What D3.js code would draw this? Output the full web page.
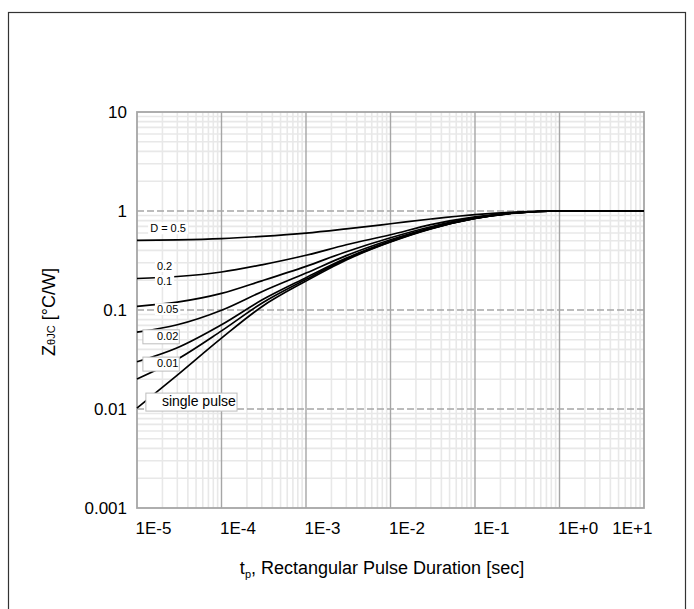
<!DOCTYPE html>
<html>
<head>
<meta charset="utf-8">
<script src="https://cdn.jsdelivr.net/npm/d3@7"></script>
<style>
body { margin: 0; background: #fff; }
text { font-family: "Liberation Sans", Arial, sans-serif; fill: #000; }
</style>
</head>
<body>
<svg id="chart" width="694" height="609"></svg>
<script>
// pulse duration [s] where each curve was read
const pulseT = [1e-5, 3e-5, 1e-4, 3e-4, 1e-3, 3e-3, 1e-2, 3e-2, 1e-1, 3e-1, 1, 10];

// Z(theta JC) [C/W] per duty cycle
const zD50 = [0.505, 0.511, 0.526, 0.554, 0.598, 0.66, 0.743, 0.83, 0.92, 0.975, 1, 1];
const zD20 = [0.208, 0.218, 0.242, 0.286, 0.357, 0.456, 0.575, 0.728, 0.872, 0.962, 1, 1];
const zD10 = [0.109, 0.120, 0.147, 0.197, 0.276, 0.388, 0.537, 0.694, 0.856, 0.958, 1, 1];
const zD05 = [0.0597, 0.0709, 0.0994, 0.153, 0.236, 0.354, 0.512, 0.677, 0.848, 0.956, 1, 1];
const zD02 = [0.030, 0.0416, 0.071, 0.126, 0.212, 0.334, 0.496, 0.667, 0.843, 0.955, 1, 1];
const zD01 = [0.0201, 0.0318, 0.0615, 0.117, 0.204, 0.327, 0.491, 0.663, 0.842, 0.954, 1, 1];
const zSingle = [0.0102, 0.022, 0.052, 0.108, 0.196, 0.32, 0.486, 0.66, 0.84, 0.953, 1, 1];

const seriesNames = ['D = 0.5', '0.2', '0.1', '0.05', '0.02', '0.01', 'single pulse'];
const seriesValues = [zD50, zD20, zD10, zD05, zD02, zD01, zSingle];

const xTicks = [1e-5, 1e-4, 1e-3, 1e-2, 1e-1, 1, 10];
const xTickLabels = ['1E-5', '1E-4', '1E-3', '1E-2', '1E-1', '1E+0', '1E+1'];
const yTicks = [0.001, 0.01, 0.1, 1, 10];
const yTickLabels = ['0.001', '0.01', '0.1', '1', '10'];

// label anchors in data units (t, Z) at text start / baseline
const labelT = [1.43e-5, 1.72e-5, 1.72e-5, 1.72e-5, 1.72e-5, 1.72e-5, 1.97e-5];
const labelZ = [0.61, 0.254, 0.179, 0.093, 0.05, 0.0265, 0.0107];

const plotL = 137, plotR = 644, plotT = 112, plotB = 508;
const svg = d3.select('#chart');

// outer frame
svg.append('rect')
    .attr('x', 8.5).attr('y', 12.5)
    .attr('width', 677).attr('height', 620)
    .style('fill', 'none')
    .style('stroke', '#333')
    .style('stroke-width', 1.2);

const x = d3.scaleLog().domain([1e-5, 10]).range([plotL, plotR]);
const y = d3.scaleLog().domain([0.001, 10]).range([plotB, plotT]);

const isMajor = v => Math.abs(Math.log10(v) - Math.round(Math.log10(v))) < 1e-6;

let grid = svg.append('g');
grid.selectAll('.minor-x')
    .data(x.ticks().filter(v => !isMajor(v)))
    .enter().append('line')
    .attr('x1', d => x(d)).attr('x2', d => x(d))
    .attr('y1', plotT).attr('y2', plotB)
    .style('stroke', '#e8e8e8').style('stroke-width', 1.6);
grid.selectAll('.minor-y')
    .data(y.ticks().filter(v => !isMajor(v)))
    .enter().append('line')
    .attr('x1', plotL).attr('x2', plotR)
    .attr('y1', d => y(d)).attr('y2', d => y(d))
    .style('stroke', '#e8e8e8').style('stroke-width', 1.6);
grid.selectAll('.major-x')
    .data(xTicks.slice(1, -1))
    .enter().append('line')
    .attr('x1', d => x(d)).attr('x2', d => x(d))
    .attr('y1', plotT).attr('y2', plotB)
    .style('stroke', '#a6a6a6').style('stroke-width', 1.4);
grid.selectAll('.major-y')
    .data(yTicks.slice(1, -1))
    .enter().append('line')
    .attr('x1', plotL).attr('x2', plotR)
    .attr('y1', d => y(d)).attr('y2', d => y(d))
    .style('stroke', '#a6a6a6').style('stroke-width', 1.4)
    .style('stroke-dasharray', '7,3');
grid.append('rect')
    .attr('x', plotL).attr('y', plotT)
    .attr('width', plotR - plotL).attr('height', plotB - plotT)
    .style('fill', 'none')
    .style('stroke', '#a6a6a6')
    .style('stroke-width', 1.8);

// axes
svg.append('g')
    .attr('transform', `translate(0,${plotB})`)
    .call(d3.axisBottom(x).tickValues(xTicks)
        .tickFormat((_, i) => xTickLabels[i]).tickSize(0).tickPadding(14))
    .call(g => g.select('.domain').remove())
    .selectAll('text')
    .style('font-size', '17px')
    .attr('text-anchor', (_, i) => i == xTicks.length - 1 ? 'end' : 'start')
    .attr('dx', (_, i) => i == xTicks.length - 1 ? 8 : -2);

svg.append('g')
    .attr('transform', `translate(${plotL},0)`)
    .call(d3.axisLeft(y).tickValues(yTicks)
        .tickFormat((_, i) => yTickLabels[i]).tickSize(0).tickPadding(10))
    .call(g => g.select('.domain').remove())
    .selectAll('text')
    .style('font-size', '17px');

// curves
const line = d3.line()
    .x((_, i) => x(pulseT[i]))
    .y(d => y(d))
    .curve(d3.curveMonotoneX);
svg.append('g').selectAll('path')
    .data(seriesValues)
    .enter().append('path')
    .attr('d', line)
    .style('fill', 'none')
    .style('stroke', '#000')
    .style('stroke-width', 1.7);

// curve labels
let labels = svg.append('g').selectAll('g')
    .data(seriesNames)
    .enter().append('g');
labels.append('rect');
labels.append('text')
    .attr('x', (_, i) => x(labelT[i]))
    .attr('y', (_, i) => y(labelZ[i]))
    .style('font-size', (_, i) => i == 6 ? '14px' : '11px')
    .text(d => d);
labels.each(function(d, i) {
    let g = d3.select(this);
    let b = g.select('text').node().getBBox();
    let boxed = i >= 4;
    let padL = boxed ? (i == 6 ? 16 : 14) : 2;
    let padR = boxed ? 1 : 2;
    g.select('rect')
        .attr('x', b.x - padL).attr('y', b.y)
        .attr('width', b.width + padL + padR)
        .attr('height', b.height + (boxed ? 2 : 0))
        .style('fill', '#fff')
        .style('stroke', boxed ? '#bdbdbd' : 'none')
        .style('stroke-width', 1);
});

// axis titles
svg.append('text')
    .attr('x', 382).attr('y', 574)
    .attr('text-anchor', 'middle')
    .style('font-size', '18px')
    .call(t => {
        t.append('tspan').text('t');
        t.append('tspan').attr('dy', 4).style('font-size', '11px').text('p');
        t.append('tspan').attr('dy', -4).text(', Rectangular Pulse Duration [sec]');
    });

svg.append('text')
    .attr('transform', 'translate(55,312) rotate(-90)')
    .attr('text-anchor', 'middle')
    .style('font-size', '18px')
    .call(t => {
        t.append('tspan').text('Z');
        t.append('tspan').style('font-size', '11px').text('θJC');
        t.append('tspan').text(' [°C/W]');
    });
</script>
</body>
</html>
